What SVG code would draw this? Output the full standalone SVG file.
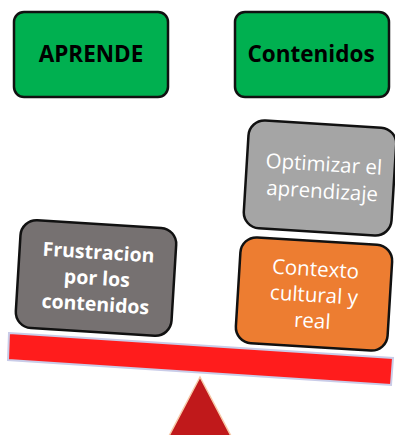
<svg xmlns="http://www.w3.org/2000/svg" width="395" height="435" viewBox="0 0 395 435">
<style>
.box{stroke:#111;stroke-width:2.5}
.t{font-family:"Open Sans","Liberation Sans",sans-serif;text-anchor:middle}
.h{font-weight:bold;font-size:22.5px;fill:#000}
.w{fill:#fff;font-size:20.5px}
.wb{fill:#fff;font-size:19.5px;font-weight:bold}
</style>
<rect width="395" height="435" fill="#fff"/>
<g id="aprende">
<rect class="box" x="14" y="12" width="154" height="85" rx="10" fill="#00B050"/>
<text class="t h" x="91" y="62">APRENDE</text>
</g>
<g id="contenidos">
<rect class="box" x="235" y="12" width="154" height="85" rx="10" fill="#00B050"/>
<text class="t h" x="311" y="62">Contenidos</text>
</g>
<g id="optimizar" transform="rotate(3.5 320 178)">
<rect class="box" x="246" y="124" width="148" height="108" rx="16" fill="#A5A5A5"/>
<text class="t w" x="323" y="171">Optimizar el</text>
<text class="t w" x="323" y="198">aprendizaje</text>
</g>
<g id="contexto" transform="rotate(3.5 314 294)">
<rect class="box" x="238" y="241" width="152" height="106" rx="16" fill="#ED7D31"/>
<text class="t w" x="314" y="276">Contexto</text>
<text class="t w" x="314" y="302">cultural y</text>
<text class="t w" x="314" y="328">real</text>
</g>
<g id="frustracion" transform="rotate(3.5 96 278)">
<rect class="box" x="18" y="224" width="156" height="108" rx="16" fill="#767171"/>
<text class="t wb" x="97" y="259">Frustracion</text>
<text class="t wb" x="97" y="285">por los</text>
<text class="t wb" x="97" y="311">contenidos</text>
</g>
<g id="beam">
<polygon points="9,333 393,358 391,385 8,360" fill="#FF1C1C" stroke="#C9CCE8" stroke-width="2"/>
</g>
<g id="fulcrum">
<polygon points="200,377 231,436 169,436" fill="#C0191B" stroke="#F7C9A8" stroke-width="1.5"/>
</g>
<g id="connectors"/>
</svg>
